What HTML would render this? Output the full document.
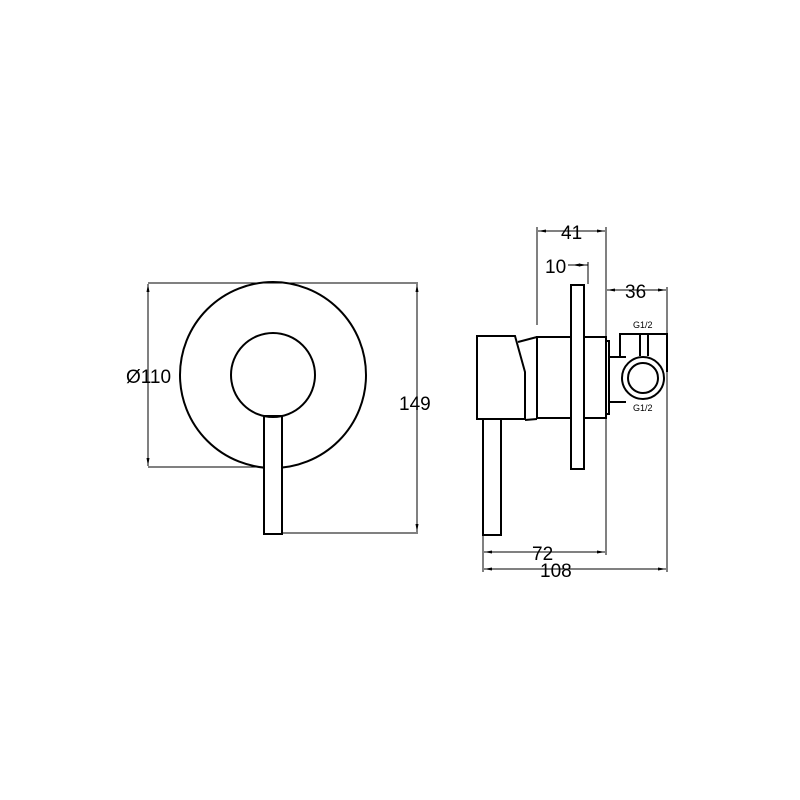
<!DOCTYPE html>
<html><head><style>body{margin:0;background:#fff}svg{display:block}</style></head>
<body>
<svg width="800" height="800" viewBox="0 0 800 800" xmlns="http://www.w3.org/2000/svg" font-family="Liberation Sans, sans-serif">
<rect width="800" height="800" fill="#fff"/>
<defs>
<marker id="a" markerWidth="8" markerHeight="6" refX="8" refY="3" orient="auto-start-reverse" markerUnits="userSpaceOnUse"><path d="M0,1.5 L8,3 L0,4.5z" fill="#000"/></marker>
</defs>
<g stroke="#000" stroke-width="1" fill="none">
<line x1="148" y1="283" x2="418" y2="283"/>
<line x1="148" y1="467" x2="273" y2="467"/>
<line x1="282" y1="533" x2="418" y2="533"/>
<line x1="148" y1="284" x2="148" y2="466" marker-start="url(#a)" marker-end="url(#a)"/>
<line x1="417" y1="284" x2="417" y2="532" marker-start="url(#a)" marker-end="url(#a)"/>
<line x1="537" y1="227" x2="537" y2="325"/>
<line x1="606" y1="227" x2="606" y2="555"/>
<line x1="588" y1="262" x2="588" y2="284"/>
<line x1="667" y1="287" x2="667" y2="572"/>
<line x1="483" y1="535" x2="483" y2="572"/>
<line x1="538" y1="231" x2="605" y2="231" marker-start="url(#a)" marker-end="url(#a)"/>
<line x1="568" y1="265" x2="588" y2="265"/>
<line x1="572" y1="265" x2="587" y2="265" marker-start="url(#a)" marker-end="url(#a)"/>
<line x1="607" y1="290" x2="666" y2="290" marker-start="url(#a)" marker-end="url(#a)"/>
<line x1="484" y1="552" x2="605" y2="552" marker-start="url(#a)" marker-end="url(#a)"/>
<line x1="484" y1="569" x2="666" y2="569" marker-start="url(#a)" marker-end="url(#a)"/>
</g>
<g stroke="#000" stroke-width="2" fill="none">
<circle cx="273" cy="375" r="93"/>
<rect x="264" y="416" width="18" height="118" fill="#fff"/>
<circle cx="273" cy="375" r="42"/>
<path d="M477,336 L515,336 L525,372 L525,419 L477,419 Z"/>
<path d="M518,342 L537,337 M525,420 L537,419"/>
<rect x="537" y="337" width="34" height="81"/>
<rect x="584" y="337" width="22" height="81"/>
<rect x="606" y="341" width="3" height="73"/>
<rect x="571" y="285" width="13" height="184" fill="#fff"/>
<rect x="483" y="419" width="18" height="116"/>
<path d="M609,357 L626,357 M609,402 L626,402"/>
<path d="M620,358 L620,334 L667,334 L667,372"/>
<path d="M640,334 L640,356 M648,334 L648,356"/>
<circle cx="643" cy="378" r="21" fill="#fff"/>
<circle cx="643" cy="378" r="15"/>
</g>
<g fill="#000" font-size="19">
<text x="126" y="383">Ø110</text>
<text x="399" y="410">149</text>
<text x="561" y="239">41</text>
<text x="545" y="273">10</text>
<text x="625" y="298">36</text>
<text x="532" y="560">72</text>
<text x="540" y="577">108</text>
<text x="633" y="328" font-size="9">G1/2</text>
<text x="633" y="411" font-size="9">G1/2</text>
</g>
</svg>
</body></html>
